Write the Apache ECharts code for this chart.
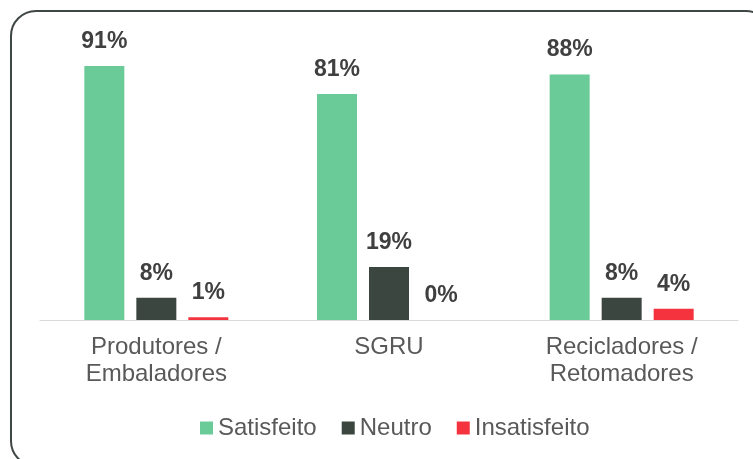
<!DOCTYPE html>
<html>
<head>
<meta charset="utf-8">
<script src="https://cdn.jsdelivr.net/npm/echarts@6/dist/echarts.min.js"></script>
<style>
  html, body { margin: 0; padding: 0; background: #fff; }
  #chart { width: 753px; height: 459px; }
</style>
</head>
<body>
<div id="chart"></div>
<script>
var categories = ['Produtores /\nEmbaladores', 'SGRU', 'Recicladores /\nRetomadores'];
var satisfeito = [91, 81, 88];
var neutro = [8, 19, 8];
var insatisfeito = [1, 0, 4];

var chart = echarts.init(document.getElementById('chart'));

var valueLabel = {
    show: true,
    position: 'top',
    distance: 13,
    formatter: '{c}%',
    fontFamily: 'Liberation Sans',
    fontSize: 23,
    fontWeight: 'bold',
    color: '#404040'
};

var option = {
    animation: false,
    textStyle: { fontFamily: 'Liberation Sans' },
    graphic: [{
        type: 'rect',
        shape: { x: 11, y: 11, width: 760, height: 455, r: 25 },
        style: { fill: 'none', stroke: '#3f4743', lineWidth: 2 },
        silent: true
    }],
    grid: { left: 40, right: 15, top: 41, bottom: 139 },
    legend: {
        top: 411,
        left: 195,
        padding: [5, 5, 5, 5],
        itemWidth: 13,
        itemHeight: 13,
        itemGap: 25,
        icon: 'rect',
        textStyle: { fontSize: 24, color: '#595959' },
        data: ['Satisfeito', 'Neutro', 'Insatisfeito']
    },
    xAxis: {
        type: 'category',
        data: categories,
        axisTick: { show: false },
        axisLine: { lineStyle: { color: '#d9d9d9', width: 1 } },
        axisLabel: { fontSize: 24, lineHeight: 27, color: '#595959', margin: 14 }
    },
    yAxis: {
        type: 'value',
        min: 0,
        max: 100,
        show: false,
        splitLine: { show: false }
    },
    series: [
        {
            name: 'Satisfeito', type: 'bar', data: satisfeito,
            barWidth: 40, barGap: '30%',
            itemStyle: { color: '#6bcb98' }, label: valueLabel
        },
        {
            name: 'Neutro', type: 'bar', data: neutro,
            barWidth: 40, barGap: '30%',
            itemStyle: { color: '#3c4641' }, label: valueLabel
        },
        {
            name: 'Insatisfeito', type: 'bar', data: insatisfeito,
            barWidth: 40, barGap: '30%',
            itemStyle: { color: '#f5333f' }, label: valueLabel
        }
    ]
};

chart.setOption(option);
</script>
</body>
</html>
